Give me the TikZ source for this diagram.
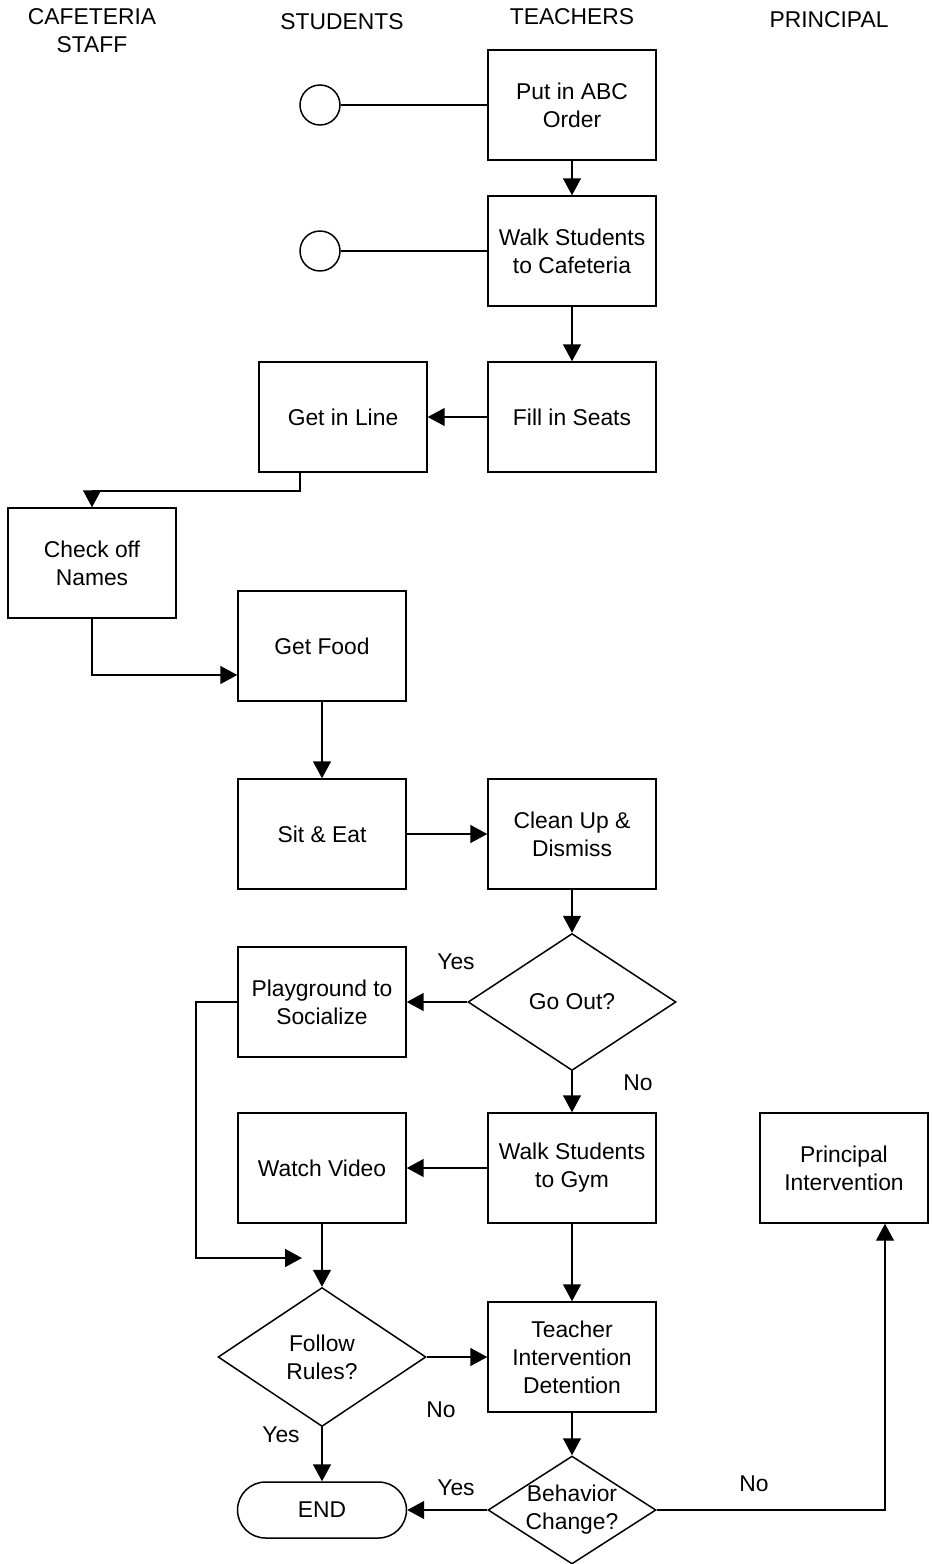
\documentclass[tikz,border=0pt]{standalone}
\usepackage{fontspec}
\setmainfont{Liberation Sans}
\usetikzlibrary{positioning,shapes,arrows.meta,calc}

\begin{document}
\begin{tikzpicture}[x=0.02cm,y=-0.02cm,line width=0.85pt,
    font=\fontsize{13}{16}\selectfont,
    box/.style={draw,rectangle,minimum width=3.36cm,minimum height=2.2cm,align=center,inner sep=1pt},
    choice/.style={draw,diamond,align=center,inner sep=0pt},
    dot/.style={draw,circle,minimum size=0.8cm,inner sep=0pt},
    term/.style={draw,rectangle,rounded corners=0.56cm,minimum width=3.38cm,minimum height=1.12cm},
    arr/.style={-{Triangle[length=3.4mm,width=3.6mm]}}]
    \useasboundingbox (0,0) rectangle (931,1564);

    % naslovi stolpcev
    \node[align=center] (staff) at (92,31) {CAFETERIA\\STAFF};
    \node (students) at (342,22) {STUDENTS};
    \node (teachers) at (572,17) {TEACHERS};
    \node (principal) at (829,20) {PRINCIPAL};

    % zacetek
    \node[box] (abc) at (572,105) {Put in ABC\\Order};
    \node[dot] (c1) at (320,105) {};
    \draw (c1) -- (abc);
    \node[box] (walk) at (572,251) {Walk Students\\to Cafeteria};
    \node[dot] (c2) at (320,251) {};
    \draw (c2) -- (walk);
    \draw[arr] (abc) -- (walk);

    % v jedilnici
    \node[box] (seats) at (572,417) {Fill in Seats};
    \node[box] (line) at (343,417) {Get in Line};
    \node[box] (check) at (92,563) {Check off\\Names};
    \node[box] (food) at (322,646) {Get Food};
    \node[box] (eat) at (322,834) {Sit \& Eat};
    \node[box] (clean) at (572,834) {Clean Up \&\\Dismiss};
    \draw[arr] (walk) -- (seats);
    \draw[arr] (seats) -- (line);
    \coordinate (k1) at (300,491);
    \draw[arr] (k1 |- line.south) -- (k1) -| (check);
    \coordinate (k2) at (92,675);
    \draw[arr] (check) -- (k2) -- (k2 -| food.west);
    \draw[arr] (food) -- (eat);
    \draw[arr] (eat) -- (clean);

    % odlocitev: ven
    \node[choice,minimum width=4.16cm,minimum height=2.74cm] (out) at (572,1002) {Go Out?};
    \node[box] (play) at (322,1002) {Playground to\\Socialize};
    \node[box] (gym) at (572,1168) {Walk Students\\to Gym};
    \node[box] (video) at (322,1168) {Watch Video};
    \node[box] (prin) at (844,1168) {Principal\\Intervention};
    \draw[arr] (clean) -- (out);
    \draw[arr] (out) -- (play);
    \draw[arr] (out) -- (gym);
    \draw[arr] (gym) -- (video);
    \node (yes1) at (456,962) {Yes};
    \node (no1) at (638,1083) {No};

    % pravila
    \node[choice,minimum width=4.16cm,minimum height=2.78cm] (rules) at (322,1357) {Follow\\Rules?};
    \node[box] (teach) at (572,1357) {Teacher\\Intervention\\Detention};
    \coordinate (k3) at (196,1258);
    \coordinate (k4) at (302,1258);
    \draw[arr] (play.west) -| (k3) -- (k4);
    \draw[arr] (video) -- (rules);
    \draw[arr] (gym) -- (teach);
    \draw[arr] (rules) -- (teach);
    \node (no2) at (441,1410) {No};
    \node (yes2) at (281,1435) {Yes};

    % konec
    \node[term] (end) at (322,1510) {END};
    \node[choice,minimum width=3.36cm,minimum height=2.16cm,
      label={[align=center]center:Behavior\\Change?}] (beh) at (572,1510) {};
    \draw[arr] (rules) -- (end);
    \draw[arr] (teach) -- (beh);
    \draw[arr] (beh) -- (end);
    \coordinate (k5) at (885,1510);
    \draw[arr] (beh.east) -- (k5) -- (k5 |- prin.south);
    \node (yes3) at (456,1488) {Yes};
    \node (no3) at (754,1484) {No};
\end{tikzpicture}
\end{document}
